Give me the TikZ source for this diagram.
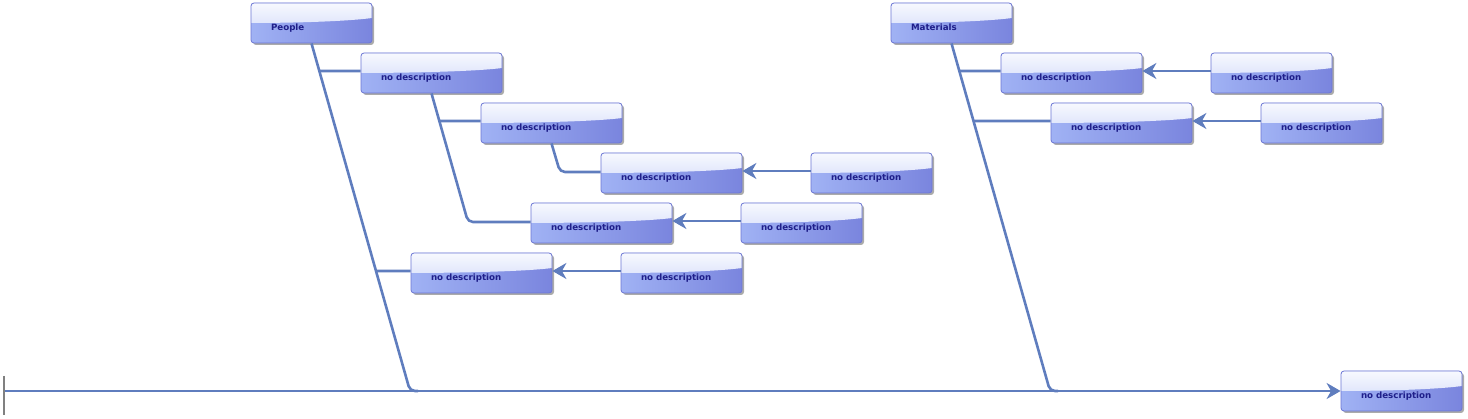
\documentclass[tikz,border=0pt]{standalone}
\usepackage{fontspec}
\setmainfont{DejaVu Sans}
\usetikzlibrary{arrows.meta,positioning,shadows}

\definecolor{bonecol}{HTML}{5F7DBE}
\definecolor{boxline}{HTML}{6C76D4}
\definecolor{boxleft}{HTML}{A0B2F4}
\definecolor{boxright}{HTML}{7A85DE}
\definecolor{boxtext}{HTML}{1F1F8A}

\tikzset{
  box/.style={rectangle, rounded corners=3pt, draw=boxline, line width=0.8pt,
    left color=boxleft, right color=boxright,
    minimum height=40pt, inner xsep=20pt, inner ysep=0pt, align=left,
    text height=14.5pt, text depth=0pt, text=boxtext,
    font=\fontsize{8.7}{10}\selectfont\bfseries,
    drop shadow={shadow xshift=2pt, shadow yshift=-2pt, fill=black!55, opacity=0.6},
    path picture={
      \shade[top color=white!92!boxleft, bottom color=white!45!boxleft, sharp corners]
        (path picture bounding box.north west) -- (path picture bounding box.north east)
        -- ([yshift=-15pt]path picture bounding box.north east)
        .. controls ([xshift=-30pt,yshift=-19pt]path picture bounding box.north east)
        and ([xshift=30pt,yshift=-20pt]path picture bounding box.north west)
        .. ([yshift=-20pt]path picture bounding box.north west) -- cycle;
    }},
  wide/.style={box, text width=101pt},
  narrow/.style={box, text width=81pt},
  bone/.style={draw=bonecol, line width=2.6pt, rounded corners=5pt},
  cause/.style={draw=bonecol, line width=2.6pt, -{Stealth[length=14pt,width=16pt,inset=4.5pt]}},
  tickline/.style={draw=black!50, line width=1.2pt}
}

\begin{document}
\begin{tikzpicture}[x=1pt,y=-1pt,node distance=200pt,on grid]

  \useasboundingbox (0,0) rectangle (1468,419);

  \node[narrow]  (People)    at (311.5,23)   {People};
  \node[narrow]  (Materials) at (951.5,23)   {Materials};

  \node[wide]    (A1)        at (431.5,73)   {no description};
  \node[wide]    (A2)        at (551.5,123)  {no description};
  \node[wide]    (A3)        at (671.5,173)  {no description};
  \node[wide]    (A4)        at (601.5,223)  {no description};
  \node[wide]    (A5)        at (481.5,273)  {no description};
  \node[narrow]  (A3c)       [right=of A3]   {no description};
  \node[narrow]  (A4c)       [right=of A4]   {no description};
  \node[narrow]  (A5c)       [right=of A5]   {no description};

  \node[wide]    (M1)        at (1071.5,73)  {no description};
  \node[wide]    (M2)        at (1121.5,123) {no description};
  \node[narrow]  (M1c)       [right=of M1]   {no description};
  \node[narrow]  (M2c)       [right=of M2]   {no description};

  \node[narrow]  (effect)    at (1401.5,391) {no description};

  \coordinate (start) at (5,391);
  \coordinate (p)     at (410,391);
  \coordinate (m)     at (1050,391);
  \coordinate (a1k)   at (468,222);
  \coordinate (a2k)   at (560,172);

  % spine
  \draw[tickline] ([xshift=-1pt,yshift=15pt]start) -- ([xshift=-1pt,yshift=-24pt]start);
  \draw[cause] (start) -- (effect.west);

  % bones
  \draw[bone] (People.south) -- (p) -- ++(8,0);
  \draw[bone] (Materials.south) -- (m) -- ++(8,0);
  \draw[bone] (A1.south) -- (a1k) -- (a1k -| A4.west);
  \draw[bone] (A2.south) -- (a2k) -- (a2k -| A3.west);

  \draw[bone] (intersection of People.south--p and {[yshift=2pt]A1.west}--{[yshift=2pt]A1.east}) -- ([yshift=2pt]A1.west);
  \draw[bone] (intersection of People.south--p and {[yshift=2pt]A5.west}--{[yshift=2pt]A5.east}) -- ([yshift=2pt]A5.west);
  \draw[bone] (intersection of A1.south--a1k and {[yshift=2pt]A2.west}--{[yshift=2pt]A2.east}) -- ([yshift=2pt]A2.west);
  \draw[bone] (intersection of Materials.south--m and {[yshift=2pt]M1.west}--{[yshift=2pt]M1.east}) -- ([yshift=2pt]M1.west);
  \draw[bone] (intersection of Materials.south--m and {[yshift=2pt]M2.west}--{[yshift=2pt]M2.east}) -- ([yshift=2pt]M2.west);

  \path
     ([yshift=2pt]A3c.west) edge[cause] ([yshift=2pt]A3.east)
     ([yshift=2pt]A4c.west) edge[cause] ([yshift=2pt]A4.east)
     ([yshift=2pt]A5c.west) edge[cause] ([yshift=2pt]A5.east)
     ([yshift=2pt]M1c.west) edge[cause] ([yshift=2pt]M1.east)
     ([yshift=2pt]M2c.west) edge[cause] ([yshift=2pt]M2.east);

\end{tikzpicture}
\end{document}
